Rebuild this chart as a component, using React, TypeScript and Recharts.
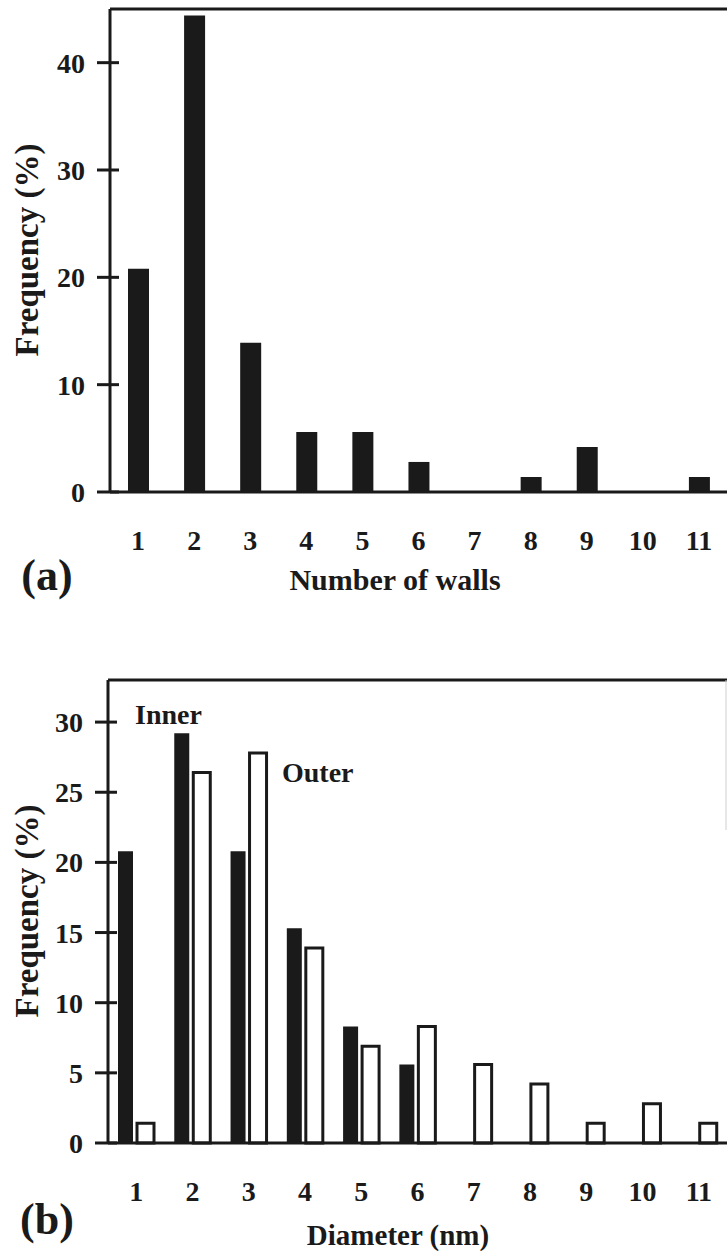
import React from 'react';
import { BarChart, Bar, XAxis, YAxis, ReferenceLine } from 'recharts';

// ---- data ----
const wallCategories = ['1', '2', '3', '4', '5', '6', '7', '8', '9', '10', '11'];
const wallFrequency = [20.8, 44.4, 13.9, 5.6, 5.6, 2.8, 0, 1.4, 4.2, 0, 1.4];
const wallTicks = [0, 10, 20, 30, 40];

const diameterCategories = ['1', '2', '3', '4', '5', '6', '7', '8', '9', '10', '11'];
const innerFrequency = [20.8, 29.2, 20.8, 15.3, 8.3, 5.6, 0, 0, 0, 0, 0];
const outerFrequency = [1.4, 26.4, 27.8, 13.9, 6.9, 8.3, 5.6, 4.2, 1.4, 2.8, 1.4];
const diameterTicks = [0, 5, 10, 15, 20, 25, 30];

const wallData = wallCategories.map((c, i) => ({ cat: c, freq: wallFrequency[i] }));
const diameterData = diameterCategories.map((c, i) => ({
  cat: c,
  inner: innerFrequency[i],
  outer: outerFrequency[i],
}));

// ---- style ----
const FONT = "'Liberation Serif', 'Times New Roman', Times, serif";
const INK = '#1a1a1a';

const makeYTick = (axisX: number) => (props: any) => {
  const { y, payload } = props;
  return (
    <g>
      <line x1={axisX - 13} x2={axisX + 9} y1={y} y2={y} stroke={INK} strokeWidth={3} />
      <text
        x={axisX - 25}
        y={y}
        dy={10}
        textAnchor="end"
        style={{ fontFamily: FONT, fontWeight: 'bold', fontSize: 28 }}
        fill={INK}
      >
        {payload.value}
      </text>
    </g>
  );
};

const makeXTick = (axisY: number) => (props: any) => {
  const { x, payload } = props;
  return (
    <text
      x={x}
      y={axisY + 58}
      textAnchor="middle"
      style={{ fontFamily: FONT, fontWeight: 'bold', fontSize: 28 }}
      fill={INK}
    >
      {payload.value}
    </text>
  );
};

const ts = (size: number) => ({ fontFamily: FONT, fontWeight: 'bold' as const, fontSize: size });

export default function App() {
  const A_H = 610;
  const A_AXIS_X = 110;
  const A_ZERO = 492;
  const B_TOP = 610;
  const B_H = 645;
  const B_AXIS_X = 108;
  const B_ZERO = 1143 - B_TOP;

  return (
    <div
      style={{
        position: 'absolute',
        left: 0,
        top: 0,
        width: 727,
        height: 1255,
        overflow: 'hidden',
        background: '#ffffff',
      }}
    >
      <div style={{ position: 'absolute', left: 0, top: 0 }}>
        <BarChart
          width={727}
          height={A_H}
          data={wallData}
          margin={{ top: 9, right: 0, left: 0, bottom: 0 }}
        >
          <XAxis
            dataKey="cat"
            type="category"
            interval={0}
            height={A_H - A_ZERO}
            axisLine={{ stroke: INK, strokeWidth: 3 }}
            tickLine={false}
            tick={makeXTick(A_ZERO)}
          />
          <YAxis
            type="number"
            domain={[0, 45]}
            ticks={wallTicks}
            width={A_AXIS_X}
            axisLine={{ stroke: INK, strokeWidth: 3 }}
            tickLine={false}
            tick={makeYTick(A_AXIS_X)}
          />
          <ReferenceLine y={45} stroke={INK} strokeWidth={3} />
          <Bar dataKey="freq" fill={INK} barSize={21} isAnimationActive={false} />
        </BarChart>
      </div>

      <div style={{ position: 'absolute', left: 0, top: B_TOP }}>
        <BarChart
          width={727}
          height={B_H}
          data={diameterData}
          margin={{ top: 70, right: 0, left: 0, bottom: 0 }}
          barGap={4}
        >
          <XAxis
            dataKey="cat"
            type="category"
            interval={0}
            height={B_H - B_ZERO}
            axisLine={{ stroke: INK, strokeWidth: 3 }}
            tickLine={false}
            tick={makeXTick(B_ZERO)}
          />
          <YAxis
            type="number"
            domain={[0, 33]}
            ticks={diameterTicks}
            width={B_AXIS_X}
            axisLine={{ stroke: INK, strokeWidth: 3 }}
            tickLine={false}
            tick={makeYTick(B_AXIS_X)}
          />
          <ReferenceLine y={33} stroke={INK} strokeWidth={3} />
          <Bar dataKey="inner" fill={INK} barSize={15} isAnimationActive={false} />
          <Bar
            dataKey="outer"
            fill="#ffffff"
            stroke={INK}
            strokeWidth={3}
            barSize={17}
            isAnimationActive={false}
          />
        </BarChart>
      </div>

      <svg
        width={727}
        height={1255}
        style={{ position: 'absolute', left: 0, top: 0, pointerEvents: 'none' }}
      >
        <line x1={726} x2={726} y1={680} y2={830} stroke="#cfcfcf" strokeWidth={1} />
        <text
          x={27}
          y={250}
          transform="rotate(-90 27 250)"
          textAnchor="middle"
          dominantBaseline="central"
          style={ts(33)}
          fill={INK}
        >
          Frequency (%)
        </text>
        <text x={395} y={590} textAnchor="middle" style={ts(30)} fill={INK}>
          Number of walls
        </text>
        <text x={47} y={590} textAnchor="middle" style={ts(44)} fill={INK}>
          (a)
        </text>

        <text
          x={27}
          y={911}
          transform="rotate(-90 27 911)"
          textAnchor="middle"
          dominantBaseline="central"
          style={ts(33)}
          fill={INK}
        >
          Frequency (%)
        </text>
        <text x={398} y={1245} textAnchor="middle" style={ts(29)} fill={INK}>
          Diameter (nm)
        </text>
        <text x={47} y={1234} textAnchor="middle" style={ts(44)} fill={INK}>
          (b)
        </text>
        <text x={135} y={724} textAnchor="start" style={ts(28)} fill={INK}>
          Inner
        </text>
        <text x={282} y={782} textAnchor="start" style={ts(28)} fill={INK}>
          Outer
        </text>
      </svg>
    </div>
  );
}
